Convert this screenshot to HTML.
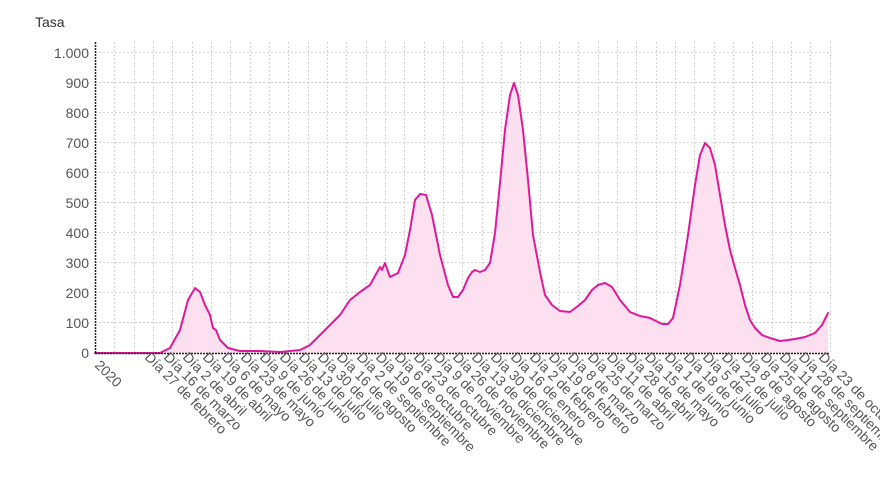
<!DOCTYPE html>
<html><head><meta charset="utf-8"><style>
body{margin:0;background:#fff;width:880px;height:495px;overflow:hidden;font-family:"Liberation Sans",sans-serif}
svg text{font-family:"Liberation Sans",sans-serif;fill:#555}
</style></head><body>
<svg width="880" height="495" viewBox="0 0 880 495">
<text x="35" y="27" font-size="14" style="fill:#333">Tasa</text>
<g stroke="#d4d4d4" stroke-dasharray="2,2" stroke-width="1">
<line x1="95" x2="830" y1="52.5" y2="52.5"/><line x1="95" x2="830" y1="82.5" y2="82.5"/><line x1="95" x2="830" y1="112.5" y2="112.5"/><line x1="95" x2="830" y1="142.5" y2="142.5"/><line x1="95" x2="830" y1="172.5" y2="172.5"/><line x1="95" x2="830" y1="202.5" y2="202.5"/><line x1="95" x2="830" y1="232.5" y2="232.5"/><line x1="95" x2="830" y1="262.5" y2="262.5"/><line x1="95" x2="830" y1="292.5" y2="292.5"/><line x1="95" x2="830" y1="322.5" y2="322.5"/>
</g>
<g stroke="#d4d4d4" stroke-dasharray="2,2" stroke-width="1" id="vg"></g>
<path fill="#fce0f0" stroke="none" d="M95,353 L160,353 170,348 180,330 188,300 195,288 200,292 205,305 210,315 213,328 216,330 220,340 228,348 240,351 260,351 280,352 300,350 310,345 320,335 330,325 340,315 350,300 360,292 370,285 375,276 380,267 382,270 385,263 390,277 398,273 405,255 410,230 415,200 420,194 426,195 432,215 440,255 448,285 453,297 458,297 463,290 468,278 472,272 475,270 480,272 485,270 490,263 495,233 500,183 505,130 510,95 514,83 518,95 523,130 528,180 533,235 540,272 545,295 552,305 560,311 570,312 578,306 585,300 592,290 598,285 605,283 612,287 620,300 630,312 640,316 650,318 656,321 662,324 668,324 673,318 680,285 688,235 695,185 700,155 705,143 710,148 715,165 720,195 725,225 730,250 735,268 740,285 745,305 750,320 755,328 762,335 770,338 780,341 788,340 795,339 805,337 815,333 822,325 828,313 L828,353 Z"/>
<path fill="none" stroke="#e0199a" stroke-width="2" stroke-linejoin="round" stroke-linecap="round" d="M95,353 L160,353 170,348 180,330 188,300 195,288 200,292 205,305 210,315 213,328 216,330 220,340 228,348 240,351 260,351 280,352 300,350 310,345 320,335 330,325 340,315 350,300 360,292 370,285 375,276 380,267 382,270 385,263 390,277 398,273 405,255 410,230 415,200 420,194 426,195 432,215 440,255 448,285 453,297 458,297 463,290 468,278 472,272 475,270 480,272 485,270 490,263 495,233 500,183 505,130 510,95 514,83 518,95 523,130 528,180 533,235 540,272 545,295 552,305 560,311 570,312 578,306 585,300 592,290 598,285 605,283 612,287 620,300 630,312 640,316 650,318 656,321 662,324 668,324 673,318 680,285 688,235 695,185 700,155 705,143 710,148 715,165 720,195 725,225 730,250 735,268 740,285 745,305 750,320 755,328 762,335 770,338 780,341 788,340 795,339 805,337 815,333 822,325 828,313"/>
<line x1="95.5" y1="42" x2="95.5" y2="354" stroke="#222" stroke-dasharray="2,1" stroke-width="1.5"/>
<line x1="95" y1="353.5" x2="830" y2="353.5" stroke="#222" stroke-dasharray="2,1" stroke-width="1.5"/>
<g font-size="14" text-anchor="end">
<text x="89" y="58">1.000</text><text x="89" y="88">900</text><text x="89" y="118">800</text><text x="89" y="148">700</text><text x="89" y="178">600</text><text x="89" y="208">500</text><text x="89" y="238">400</text><text x="89" y="268">300</text><text x="89" y="298">200</text><text x="89" y="328">100</text><text x="89" y="358">0</text>
</g>
<g font-size="14">
<text transform="translate(94,366) rotate(45)">2020</text>
<text transform="translate(144,358) rotate(45)">Día 27 de febrero</text>
<text transform="translate(163,358) rotate(45)">Día 16 de marzo</text>
<text transform="translate(182,358) rotate(45)">Día 2 de abril</text>
<text transform="translate(202,358) rotate(45)">Día 19 de abril</text>
<text transform="translate(221,358) rotate(45)">Día 6 de mayo</text>
<text transform="translate(240,358) rotate(45)">Día 23 de mayo</text>
<text transform="translate(259,358) rotate(45)">Día 9 de junio</text>
<text transform="translate(279,358) rotate(45)">Día 26 de junio</text>
<text transform="translate(298,358) rotate(45)">Día 13 de julio</text>
<text transform="translate(317,358) rotate(45)">Día 30 de julio</text>
<text transform="translate(336,358) rotate(45)">Día 16 de agosto</text>
<text transform="translate(356,358) rotate(45)">Día 2 de septiembre</text>
<text transform="translate(375,358) rotate(45)">Día 19 de septiembre</text>
<text transform="translate(394,358) rotate(45)">Día 6 de octubre</text>
<text transform="translate(413,358) rotate(45)">Día 23 de octubre</text>
<text transform="translate(433,358) rotate(45)">Día 9 de noviembre</text>
<text transform="translate(452,358) rotate(45)">Día 26 de noviembre</text>
<text transform="translate(471,358) rotate(45)">Día 13 de diciembre</text>
<text transform="translate(490,358) rotate(45)">Día 30 de diciembre</text>
<text transform="translate(510,358) rotate(45)">Día 16 de enero</text>
<text transform="translate(529,358) rotate(45)">Día 2 de febrero</text>
<text transform="translate(548,358) rotate(45)">Día 19 de febrero</text>
<text transform="translate(567,358) rotate(45)">Día 8 de marzo</text>
<text transform="translate(587,358) rotate(45)">Día 25 de marzo</text>
<text transform="translate(606,358) rotate(45)">Día 11 de abril</text>
<text transform="translate(625,358) rotate(45)">Día 28 de abril</text>
<text transform="translate(644,358) rotate(45)">Día 15 de mayo</text>
<text transform="translate(664,358) rotate(45)">Día 1 de junio</text>
<text transform="translate(683,358) rotate(45)">Día 18 de junio</text>
<text transform="translate(702,358) rotate(45)">Día 5 de julio</text>
<text transform="translate(721,358) rotate(45)">Día 22 de julio</text>
<text transform="translate(741,358) rotate(45)">Día 8 de agosto</text>
<text transform="translate(760,358) rotate(45)">Día 25 de agosto</text>
<text transform="translate(779,358) rotate(45)">Día 11 de septiembre</text>
<text transform="translate(798,358) rotate(45)">Día 28 de septiembre</text>
<text transform="translate(818,358) rotate(45)">Día 23 de octubre</text>
</g>
</svg>
<script>
var g=document.getElementById('vg'),s='';
for(var i=1;i<=38;i++){var x=Math.round(95+i*19.33)+0.5;s+='<line x1="'+x+'" x2="'+x+'" y1="42" y2="353"/>';}
g.innerHTML=s;
</script>
</body></html>
